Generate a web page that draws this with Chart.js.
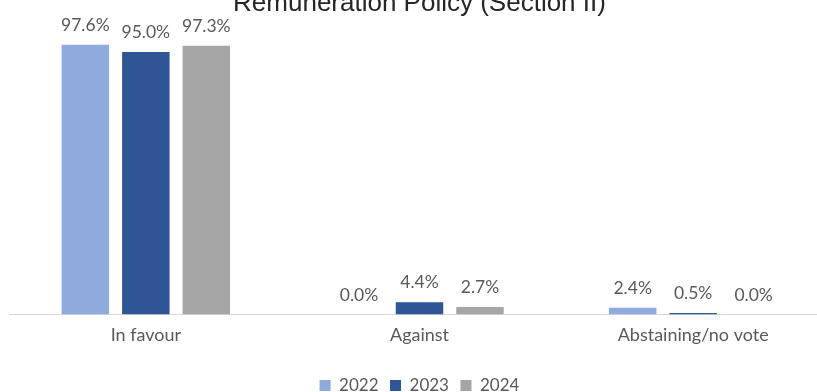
<!DOCTYPE html>
<html>
<head>
<meta charset="utf-8">
<script src="https://cdn.jsdelivr.net/npm/chart.js@4/dist/chart.umd.min.js"></script>
<style>
  html, body { margin: 0; padding: 0; background: #fff; overflow: hidden; }
  #wrap { position: absolute; left: 0; top: -16px; }
</style>
</head>
<body>
<div id="wrap"><canvas id="voteChart" width="839" height="420"></canvas></div>
<script>
const categories = ["In favour", "Against", "Abstaining/no vote"];
const years = ["2022", "2023", "2024"];
const votes2022 = [97.6, 0.0, 2.4];
const votes2023 = [95.0, 4.4, 0.5];
const votes2024 = [97.3, 2.7, 0.0];
const yearColours = ["#8faadc", "#2f5597", "#a5a5a5"];

/* percentage labels above each bar */
const valueLabels = {
  id: "valueLabels",
  afterDatasetsDraw(chart){
    const ctx = chart.ctx;
    ctx.save();
    ctx.font = "17.5px Lato";
    ctx.fillStyle = "#595959";
    ctx.textAlign = "center";
    ctx.textBaseline = "alphabetic";
    chart.data.datasets.forEach((ds, i) => {
      chart.getDatasetMeta(i).data.forEach((bar, j) => {
        ctx.fillText(ds.data[j].toFixed(1) + "%", bar.x, bar.y - 14);
      });
    });
    ctx.restore();
  }
};

const series = [votes2022, votes2023, votes2024];

new Chart(document.getElementById("voteChart"), {
  type: "bar",
  data: {
    labels: categories,
    datasets: years.map((year, i) => ({
      label: year,
      data: series[i],
      backgroundColor: yearColours[i],
      borderWidth: 0,
      categoryPercentage: 0.663,
      barPercentage: 0.785
    }))
  },
  options: {
    responsive: false,
    animation: false,
    layout: { padding: { left: 9, right: 9, top: 0, bottom: 0 } },
    scales: {
      x: {
        grid: { display: false },
        border: { display: true, color: "#d9d9d9", width: 1 },
        ticks: { color: "#595959", font: { family: "Lato", size: 18 }, padding: 2 },
        afterFit(scale){ scale.height = 51; }
      },
      y: {
        display: false,
        min: 0,
        max: 100
      }
    },
    plugins: {
      title: {
        display: true,
        text: "Remuneration Policy (Section II)",
        color: "#262626",
        font: { family: "Liberation Sans", size: 26, weight: "normal" },
        padding: { top: 4, bottom: 19 }
      },
      legend: {
        position: "bottom",
        labels: {
          color: "#595959",
          font: { family: "Lato", size: 17 },
          boxWidth: 11,
          boxHeight: 11,
          padding: 11.5
        }
      },
      tooltip: { enabled: false }
    }
  },
  plugins: [valueLabels]
});
</script>
</body>
</html>
